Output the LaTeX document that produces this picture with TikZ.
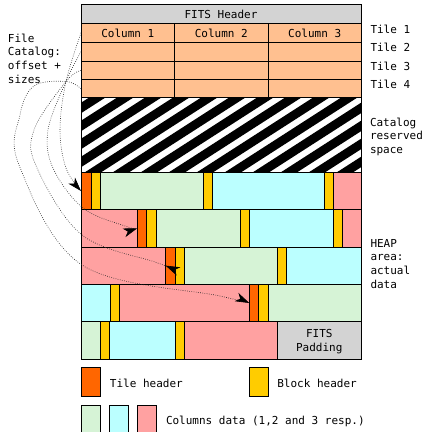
\documentclass[tikz,border=0pt]{standalone}
\usepackage{fontspec}
\setmonofont{DejaVu Sans Mono}
\usetikzlibrary{arrows.meta}
\definecolor{hdrgray}{HTML}{D3D3D3}
\definecolor{colorange}{HTML}{FFC090}
\definecolor{tileorange}{HTML}{FF6600}
\definecolor{blockyellow}{HTML}{FFCC00}
\definecolor{datagreen}{HTML}{D6F3D6}
\definecolor{datacyan}{HTML}{BBFFFF}
\definecolor{datapink}{HTML}{FFA1A1}
\tikzset{
  box/.style={draw=black, line width=0.9pt, inner sep=0pt, outer sep=0pt, anchor=north west},
  gray box/.style={box, fill=hdrgray},
  cat cell/.style={box, fill=colorange},
  th/.style={box, fill=tileorange},
  bh/.style={box, fill=blockyellow},
  dg/.style={box, fill=datagreen},
  dc/.style={box, fill=datacyan},
  dp/.style={box, fill=datapink},
  lbl/.style={font=\ttfamily\fontsize{11}{13.8}\selectfont, inner sep=0pt, outer sep=0pt, anchor=base west, align=left},
  clbl/.style={font=\ttfamily\fontsize{11}{14.4}\selectfont, inner sep=0pt, outer sep=0pt, anchor=base, align=center},
  catlink/.style={line width=0.6pt, draw=black!85, dash pattern=on 0.7pt off 1.5pt,
    -{Stealth[length=14pt,width=9pt,inset=4pt,color=black,fill=black]}},
}
\newcommand\seg[6]{\node[#1,minimum width={(#5-#3)*1pt},minimum height={(#6-#4)*1pt}] (#2) at (#3,#4) {};}
\begin{document}
\begin{tikzpicture}[x=1pt,y=-1pt]
\useasboundingbox (0,0) rectangle (424,432);
% FITS header
\seg{gray box}{fitshdr}{81}{4.3}{361.3}{23.3}
\node[clbl] (fitshdrtxt) at (221,18.3) {FITS Header};
% catalog rows
\seg{cat cell}{cat11}{81}{23.3}{174.7}{42.3}
\seg{cat cell}{cat12}{174.7}{23.3}{268}{42.3}
\seg{cat cell}{cat13}{268}{23.3}{361.3}{42.3}
\seg{cat cell}{cat21}{81}{42.3}{174.7}{61}
\seg{cat cell}{cat22}{174.7}{42.3}{268}{61}
\seg{cat cell}{cat23}{268}{42.3}{361.3}{61}
\seg{cat cell}{cat31}{81}{61}{174.7}{79.7}
\seg{cat cell}{cat32}{174.7}{61}{268}{79.7}
\seg{cat cell}{cat33}{268}{61}{361.3}{79.7}
\seg{cat cell}{cat41}{81}{79.7}{174.7}{97.7}
\seg{cat cell}{cat42}{174.7}{79.7}{268}{97.7}
\seg{cat cell}{cat43}{268}{79.7}{361.3}{97.7}
\node[clbl] (col1) at (127.85,37.7) {Column 1};
\node[clbl] (col2) at (221.35,37.7) {Column 2};
\node[clbl] (col3) at (314.65,37.7) {Column 3};
\node[lbl] (tile1) at (370.5,33.3) {Tile 1};
\node[lbl] (tile2) at (370.5,51.7) {Tile 2};
\node[lbl] (tile3) at (370.5,70) {Tile 3};
\node[lbl] (tile4) at (370.5,88.3) {Tile 4};
% reserved space (hatched)
\begin{scope}
  \clip (81,97.7) rectangle (361.3,172.5);
  \fill[white] (81,97.7) rectangle (361.3,172.5);
  \foreach \i in {-6,...,11}
    \draw[line width=8.8pt] (81+28*\i,180) -- ++(170,-109.3);
\end{scope}
\seg{box}{reserved}{81}{97.7}{361.3}{172.5}
\node[lbl] (reservedtxt) at (370,153.7) {Catalog\\reserved\\space};
% HEAP row 1
\seg{dg}{g1}{100}{172.5}{203}{209.5}
\seg{dc}{c1}{212.3}{172.5}{324}{209.5}
\seg{dp}{p1}{333.3}{172.5}{361.3}{209.5}
\seg{th}{th1}{81}{172.5}{91}{209.5}
\seg{bh}{b11}{91}{172.5}{100}{209.5}
\seg{bh}{b12}{203}{172.5}{212.3}{209.5}
\seg{bh}{b13}{324}{172.5}{333.3}{209.5}
% HEAP row 2
\seg{dp}{p2a}{81}{209.5}{137.3}{247}
\seg{dg}{g2}{156}{209.5}{240}{247}
\seg{dc}{c2}{249.3}{209.5}{333.3}{247}
\seg{dp}{p2b}{342.7}{209.5}{361.3}{247}
\seg{th}{th2}{137.3}{209.5}{146.7}{247}
\seg{bh}{b21}{146.7}{209.5}{156}{247}
\seg{bh}{b22}{240}{209.5}{249.3}{247}
\seg{bh}{b23}{333.3}{209.5}{342.7}{247}
% HEAP row 3
\seg{dp}{p3}{81}{247}{165.7}{284.3}
\seg{dg}{g3}{184.3}{247}{277.3}{284.3}
\seg{dc}{c3}{286.7}{247}{361.3}{284.3}
\seg{th}{th3}{165.7}{247}{175}{284.3}
\seg{bh}{b31}{175}{247}{184.3}{284.3}
\seg{bh}{b32}{277.3}{247}{286.7}{284.3}
% HEAP row 4
\seg{dc}{c4}{81}{284.3}{110}{321.7}
\seg{dp}{p4}{119.3}{284.3}{249.3}{321.7}
\seg{dg}{g4}{268}{284.3}{361.3}{321.7}
\seg{bh}{b41}{110}{284.3}{119.3}{321.7}
\seg{th}{th4}{249.3}{284.3}{258.7}{321.7}
\seg{bh}{b42}{258.7}{284.3}{268}{321.7}
% HEAP row 5
\seg{dg}{g5}{81}{321.7}{100.7}{359}
\seg{dc}{c5}{109.3}{321.7}{175}{359}
\seg{dp}{p5}{184.3}{321.7}{277.3}{359}
\seg{gray box}{pad}{277.3}{321.7}{361.3}{359}
\seg{bh}{b51}{100.7}{321.7}{109.3}{359}
\seg{bh}{b52}{175}{321.7}{184.3}{359}
\node[clbl] (padtxt) at (319.3,351.7) {FITS\\Padding};
\node[lbl] (heaptxt) at (370.5,288.4) {HEAP\\area:\\actual\\data};
% left label
\node[lbl] (filecat) at (8,83.5) {File\\Catalog:\\offset +\\sizes};
% catalog links
\coordinate (cross) at (66,81.5);
\draw[catlink] plot[smooth, tension=0.6] coordinates {(cat11.west) (cross) (60,130) (66,168) (th1.west)};
\draw[catlink] plot[smooth, tension=0.6] coordinates {(cat21.west) (cross) (48,130) (53,168) (83,208) (125,226) (th2.west)};
\draw[catlink] plot[smooth, tension=0.6] coordinates {(cat31.west) (cross) (34,130) (37,168) (82,235) (155,262) (th3.west)};
\draw[catlink] plot[smooth, tension=0.6] coordinates {(cat41.west) (cross) (34,86) (20,115) (19,165) (82,265) (220,296) (th4.west)};
% legend
\seg{th}{legth}{81.7}{367.7}{100.7}{396.3}
\node[lbl] (legthtxt) at (110,387) {Tile header};
\seg{bh}{legbh}{249.3}{367.7}{268.3}{396.3}
\node[lbl] (legbhtxt) at (277.3,387) {Block header};
\seg{dg}{legg}{81.7}{405}{100.7}{433.6}
\seg{dc}{legc}{109.7}{405}{128.3}{433.6}
\seg{dp}{legp}{137.3}{405}{156.3}{433.6}
\node[lbl] (legdtxt) at (166,424) {Columns data (1,2 and 3 resp.)};
\end{tikzpicture}
\end{document}
